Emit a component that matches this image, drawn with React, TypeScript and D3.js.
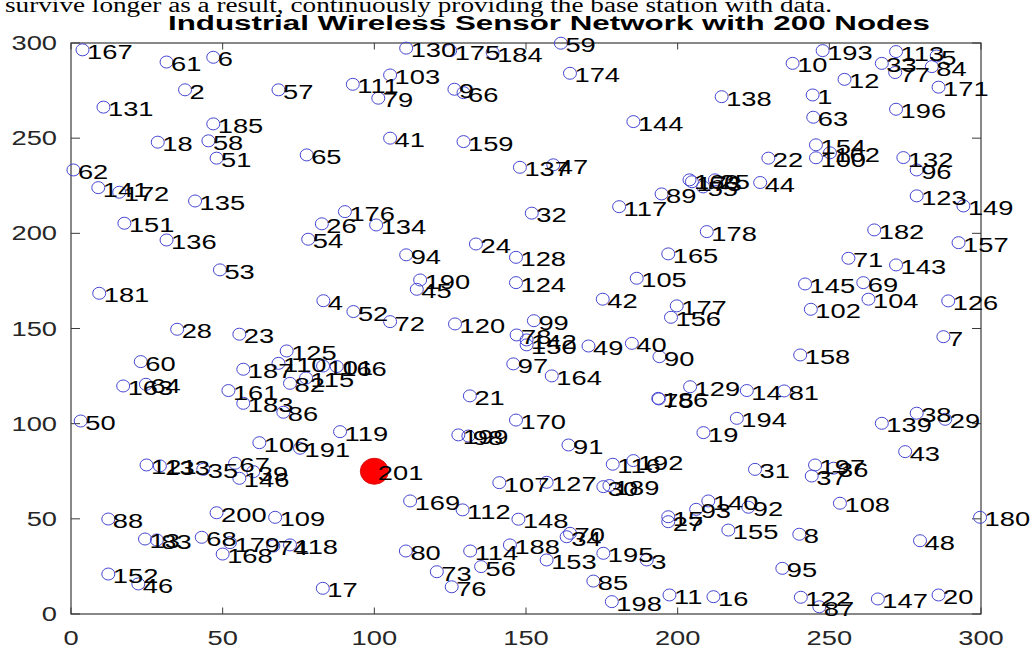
import React from "react";
import * as d3 from "d3";

const W = 1034;
const H = 648;

// Sensor node coordinates (metres), node n is at index n - 1
const nodeX = [
  244.5, 37.6, 189.8, 83.2, 285.4, 46.9, 287.6, 240.1, 126.4, 237.9,
  197.3, 255.0, 24.4, 222.8, 196.9, 211.8, 83.0, 28.6, 208.5, 286.0,
  131.5, 229.9, 55.5, 133.5, 212.3, 82.7, 196.9, 35.0, 288.2, 175.5,
  225.5, 151.9, 267.3, 163.4, 43.6, 251.4, 244.2, 278.8, 60.1, 184.9,
  105.2, 175.3, 275.0, 227.2, 114.0, 22.2, 159.0, 279.9, 170.6, 3.2,
  48.0, 93.1, 49.1, 78.2, 208.4, 135.2, 68.4, 45.3, 161.5, 23.0,
  31.5, 0.8, 244.7, 24.7, 77.7, 129.4, 54.1, 43.1, 261.2, 164.5,
  256.3, 105.2, 120.6, 66.7, 193.8, 125.5, 271.7, 146.9, 101.3, 110.4,
  235.1, 72.2, 28.3, 283.8, 172.2, 70.0, 246.7, 12.3, 194.7, 194.0,
  164.0, 223.3, 206.1, 110.5, 234.5, 278.8, 145.8, 131.0, 152.6, 245.6,
  83.1, 243.9, 105.2, 262.9, 186.5, 62.1, 141.2, 253.5, 67.3, 68.4,
  92.9, 129.1, 272.0, 131.6, 77.5, 178.6, 180.7, 72.2, 88.7, 126.6,
  24.9, 240.6, 278.8, 146.7, 71.1, 289.2, 156.8, 146.7, 204.1, 110.5,
  10.7, 274.4, 29.3, 100.6, 40.9, 31.5, 148.0, 214.5, 267.3, 210.1,
  9.0, 150.2, 272.0, 185.4, 242.0, 55.5, 266.0, 147.5, 294.2, 150.2,
  17.6, 12.3, 156.8, 245.6, 216.7, 197.8, 292.6, 240.4, 129.4, 203.9,
  51.9, 250.2, 17.2, 158.5, 196.9, 87.6, 3.8, 50.0, 111.8, 146.7,
  286.0, 15.9, 204.7, 164.5, 125.0, 90.3, 199.7, 209.6, 52.4, 299.7,
  9.3, 264.8, 56.8, 139.0, 46.9, 193.6, 56.8, 144.7, 177.5, 115.1,
  75.5, 185.4, 247.8, 219.5, 175.5, 272.0, 245.3, 178.3, 127.7, 48.0,
];

const nodeY = [
  272.7, 275.4, 28.4, 164.6, 293.2, 292.5, 145.7, 41.9, 275.7, 289.3,
  10.0, 280.9, 39.4, 117.4, 51.1, 9.1, 13.5, 247.9, 95.3, 10.0,
  114.6, 239.5, 147.0, 194.4, 228.1, 205.0, 48.5, 149.6, 102.3, 66.9,
  76.0, 210.6, 289.3, 40.6, 76.0, 76.6, 72.5, 105.5, 74.8, 142.2,
  250.0, 165.4, 85.3, 226.7, 170.6, 15.8, 236.0, 38.5, 140.8, 101.4,
  239.5, 158.9, 180.8, 196.9, 224.4, 24.9, 275.4, 248.6, 299.9, 132.6,
  290.0, 233.3, 261.0, 120.7, 241.2, 273.9, 79.2, 40.3, 174.1, 42.4,
  186.9, 153.6, 22.2, 35.7, 113.0, 14.3, 284.5, 146.6, 271.0, 33.1,
  117.2, 121.2, 38.9, 287.6, 17.3, 106.0, 3.8, 49.9, 220.7, 135.2,
  88.8, 56.1, 55.0, 188.7, 24.0, 233.3, 131.4, 93.5, 154.1, 239.7,
  130.3, 160.1, 283.2, 165.4, 176.4, 90.0, 69.0, 58.2, 50.8, 131.7,
  278.3, 54.7, 295.5, 33.1, 124.0, 78.7, 214.0, 36.3, 95.8, 152.4,
  78.3, 8.8, 219.7, 174.1, 138.2, 164.5, 69.2, 187.4, 119.4, 297.3,
  266.3, 239.8, 77.8, 204.4, 217.0, 196.5, 234.7, 271.8, 100.2, 59.4,
  224.0, 144.0, 183.4, 258.7, 173.4, 71.3, 7.9, 49.8, 214.4, 141.4,
  205.3, 21.0, 28.4, 246.5, 44.1, 155.9, 195.1, 136.1, 248.2, 228.1,
  117.4, 242.3, 119.8, 125.1, 189.2, 130.0, 296.4, 31.5, 59.4, 101.9,
  276.8, 221.6, 227.1, 284.1, 296.0, 211.4, 161.9, 200.9, 37.5, 50.8,
  168.5, 201.8, 110.7, 295.0, 257.5, 113.3, 128.6, 36.3, 67.5, 175.5,
  87.1, 80.6, 296.0, 102.8, 31.9, 265.2, 78.3, 6.5, 94.1, 53.2,
];

// Base station
const baseId = 201;
const baseX = 100;
const baseY = 75;

const xTicks = [0, 50, 100, 150, 200, 250, 300];
const yTicks = [0, 50, 100, 150, 200, 250, 300];

const captionText =
  "survive longer as a result, continuously providing the base station with data.";
const titleText = "Industrial Wireless Sensor Network with 200 Nodes";

const SANS = "'Liberation Sans', Arial, Helvetica, sans-serif";
const SERIF = "'Liberation Serif', 'Times New Roman', serif";
const STRETCH = 1.4;

export default function App() {
  const x = d3.scaleLinear().domain([0, 300]).range([71, 981]);
  const y = d3.scaleLinear().domain([0, 300]).range([614, 43]);
  const [x0, x1] = x.range();
  const [y0, y1] = y.range();
  const axisColor = "#3a3a3a";

  const nodes = nodeX.map((vx, i) => ({ id: i + 1, cx: x(vx), cy: y(nodeY[i]) }));

  return (
    <svg
      width={W}
      height={H}
      viewBox={`0 0 ${W} ${H}`}
      style={{ position: "absolute", left: 0, top: 0, background: "#fff" }}
    >
      <rect x={0} y={0} width={W} height={H} fill="#fff" />

      {/* running text above the figure */}
      <text
        x={5}
        y={12}
        fontFamily={SERIF}
        fontSize={20}
        fill="#000"
        textLength={827}
        lengthAdjust="spacingAndGlyphs"
      >
        {captionText}
      </text>

      {/* title */}
      <text
        x={168}
        y={30}
        fontFamily={SANS}
        fontWeight="bold"
        fontSize={20}
        fill="#000"
        textLength={762}
        lengthAdjust="spacingAndGlyphs"
      >
        {titleText}
      </text>

      {/* axes box */}
      <rect
        x={x0}
        y={y1}
        width={x1 - x0}
        height={y0 - y1}
        fill="none"
        stroke={axisColor}
        strokeWidth={1.2}
      />

      {/* ticks, mirrored on all four sides, pointing inward */}
      {xTicks.map((t) => (
        <g key={`xt${t}`}>
          <line x1={x(t)} x2={x(t)} y1={y0} y2={y0 - 6.5} stroke={axisColor} strokeWidth={1} />
          <line x1={x(t)} x2={x(t)} y1={y1} y2={y1 + 6.5} stroke={axisColor} strokeWidth={1} />
          <text
            transform={`translate(${x(t)},${645}) scale(${STRETCH},1)`}
            textAnchor="middle"
            fontFamily={SANS}
            fontSize={19.5}
            fill="#262626"
          >
            {t}
          </text>
        </g>
      ))}
      {yTicks.map((t) => (
        <g key={`yt${t}`}>
          <line x1={x0} x2={x0 + 9} y1={y(t)} y2={y(t)} stroke={axisColor} strokeWidth={1} />
          <line x1={x1} x2={x1 - 9} y1={y(t)} y2={y(t)} stroke={axisColor} strokeWidth={1} />
          <text
            transform={`translate(${57},${y(t) + 7}) scale(${STRETCH},1)`}
            textAnchor="end"
            fontFamily={SANS}
            fontSize={19.5}
            fill="#262626"
          >
            {t}
          </text>
        </g>
      ))}

      {/* sensor nodes */}
      {nodes.map((n) => (
        <ellipse
          key={`c${n.id}`}
          cx={n.cx}
          cy={n.cy}
          rx={6.5}
          ry={6}
          fill="none"
          stroke="#4646d2"
          strokeWidth={1}
        />
      ))}

      {/* base station */}
      <ellipse cx={x(baseX)} cy={y(baseY)} rx={14} ry={13} fill="#ff0000" stroke="#d81010" strokeWidth={1} />

      {/* node labels */}
      {nodes.map((n) => (
        <text
          key={`t${n.id}`}
          transform={`translate(${n.cx + 4.5},${n.cy + 9}) scale(${STRETCH},1)`}
          fontFamily={SANS}
          fontSize={19.5}
          fill="#000"
        >
          {n.id}
        </text>
      ))}
      <text
        transform={`translate(${x(baseX) + 3.5},${y(baseY) + 9}) scale(${STRETCH},1)`}
        fontFamily={SANS}
        fontSize={19.5}
        fill="#000"
      >
        {baseId}
      </text>
    </svg>
  );
}
